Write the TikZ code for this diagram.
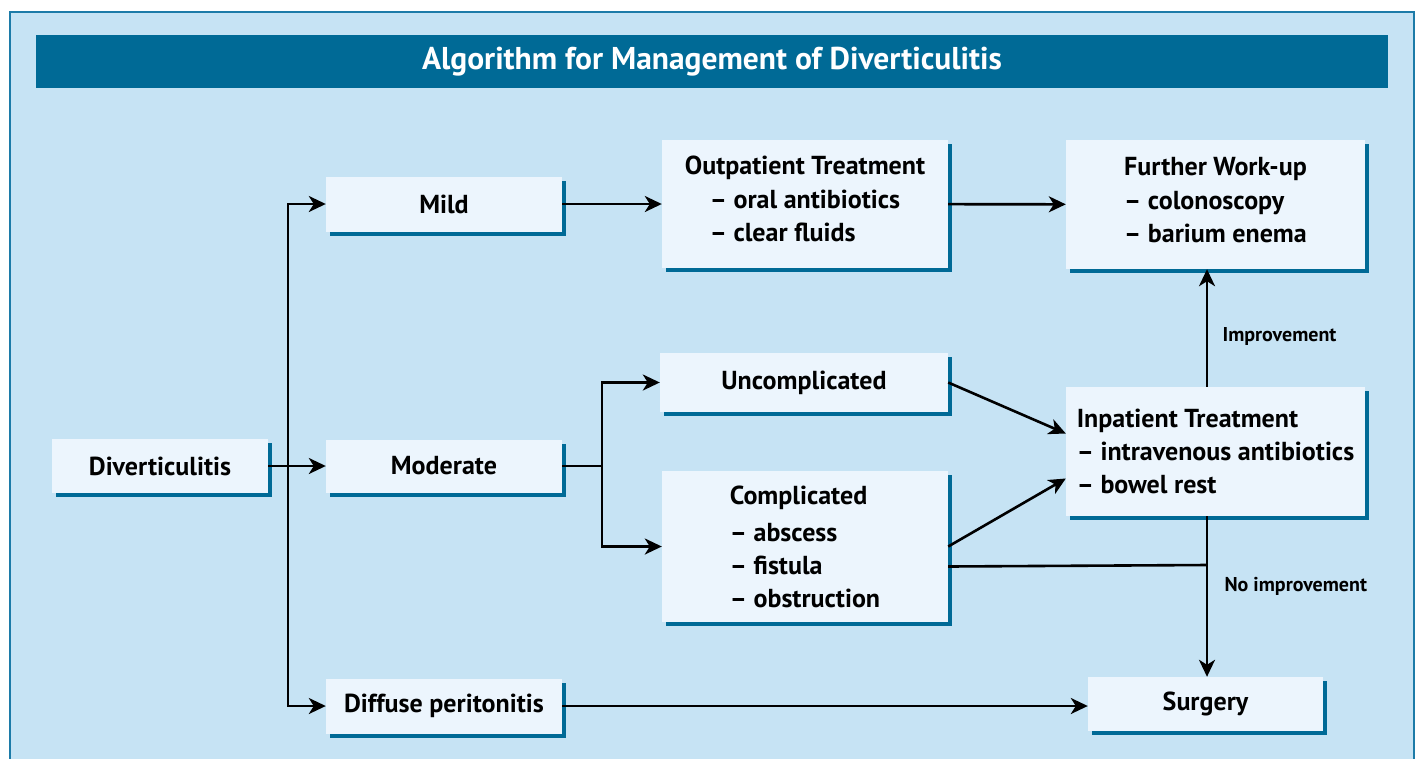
\documentclass[tikz,border=0pt]{standalone}
\usepackage{fontspec}
\setmainfont{PT Sans}
\usetikzlibrary{arrows.meta, positioning, shadows, calc}
\definecolor{cpanel}{HTML}{C6E3F4}
\definecolor{cframe}{HTML}{1C7BA8}
\definecolor{cbar}{HTML}{006A96}
\definecolor{cbox}{HTML}{ECF5FD}
\definecolor{cline}{HTML}{000000}

\begin{document}
\begin{tikzpicture}[
  x=1pt, y=-1pt,
  font=\bfseries\fontsize{26}{33}\selectfont,
  >={Stealth[length=17pt, width=16pt, inset=5pt]},
  box/.style={fill=cbox, inner sep=0pt, align=center,
              drop shadow={shadow xshift=4pt, shadow yshift=-4pt, fill=cbar, opacity=1}},
  arr/.style={->, line width=2.6pt, draw=cline},
  lbl/.style={anchor=west, font=\bfseries\fontsize{20}{24}\selectfont},
  ]
\fill[white] (0,0) rectangle (1420,758);
\useasboundingbox (0,0) rectangle (1420,758);
\fill[cpanel] (10,12) rectangle (1414,770);
\draw[cframe, line width=2pt] (10,770) -- (10,12) -- (1414,12) -- (1414,770);

\node[fill=cbar, text=white, inner sep=0pt, minimum width=1352pt, minimum height=53pt,
      font=\bfseries\fontsize{31.5}{36}\selectfont] (title) at (712,61.5) {Algorithm for Management of Diverticulitis};

\node[box, minimum width=216pt, minimum height=54pt] (divert) at (160,466) {Diverticulitis};
\node[box, minimum width=236pt, minimum height=55pt] (mild) at (444,204) {Mild};
\node[box, minimum width=236pt, minimum height=53pt] (moderate) at (444,466) {Moderate};
\node[box, minimum width=236pt, minimum height=55pt] (diffuse) at (444,706) {Diffuse peritonitis};
\node[box, minimum width=286pt, minimum height=128pt] (outpat) at (805,204)
  {Outpatient Treatment\\[5pt]\begin{tabular}{@{}l@{}}-- oral antibiotics\\-- clear fluids\end{tabular}};
\node[box, minimum width=288pt, minimum height=59pt] (uncomp) at (804,382.5) {Uncomplicated};
\node[box, minimum width=286pt, minimum height=151pt, align=left] (comp) at (805,546.5)
  {Complicated\\[4pt]-- abscess\\-- fistula\\-- obstruction};
\node[box, minimum width=299pt, minimum height=129pt] (further) at (1215.5,204.5)
  {Further Work-up\\[5pt]\begin{tabular}{@{}l@{}}-- colonoscopy\\-- barium enema\end{tabular}};
\node[box, minimum width=299pt, minimum height=129pt, align=left] (inpat) at (1215.5,451.5)
  {Inpatient Treatment\\-- intravenous antibiotics\\-- bowel rest};
\node[box, minimum width=235pt, minimum height=54pt] (surgery) at (1205.5,704) {Surgery};

\coordinate (trunk) at (288,466);
\coordinate (fork) at (602,466);
\coordinate (drop) at (1207,565);

\draw[arr] (divert) -- (moderate);
\draw[arr] (trunk) |- (mild);
\draw[arr] (trunk) |- (diffuse);
\draw[arr] (moderate) -- (fork) |- (uncomp);
\draw[arr] (fork) |- (comp);
\draw[arr] (mild) -- (outpat);
\draw[arr] (outpat) -- (further);
\draw[arr] (uncomp.east) -- ([yshift=18pt]inpat.west);
\draw[arr] (comp.east) -- ([yshift=-27pt]inpat.west);
\draw[line width=2.6pt, draw=cline] ([yshift=-20pt]comp.east) -- (drop);
\draw[arr] (inpat.north -| drop) -- (further.south -| drop);
\draw[arr] (inpat.south -| drop) -- (surgery.north -| drop);
\draw[arr] (diffuse.east) -- (surgery.west |- diffuse.east);

\node[lbl] (better) at (1219,336) {Improvement};
\node[lbl] (worse) at (1221,586) {No improvement};
\end{tikzpicture}
\end{document}
